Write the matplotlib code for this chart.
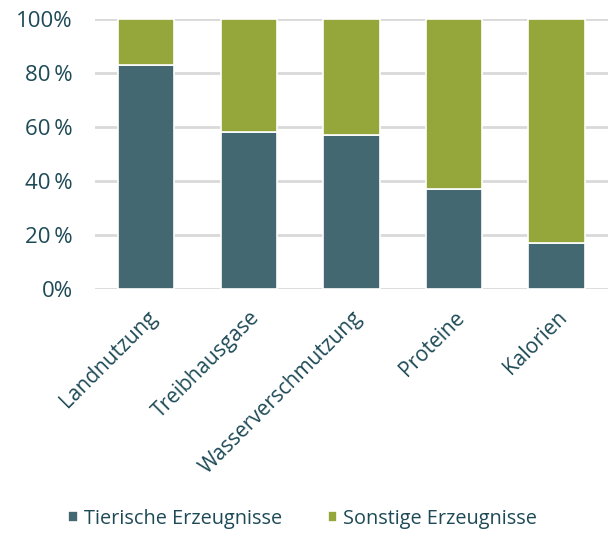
import numpy as np
import matplotlib
matplotlib.use("Agg")
import matplotlib.pyplot as plt

categories = ["Landnutzung", "Treibhausgase", "Wasserverschmutzung", "Proteine", "Kalorien"]
tierisch = [83, 58, 57, 37, 17]
sonstige = [100 - v for v in tierisch]

DARK = "#436872"
GREEN = "#95a73a"
TEXT = "#1d4a56"

plt.rcParams["font.family"] = ["Open Sans", "DejaVu Sans"]

fig = plt.figure(figsize=(6.09, 5.37), dpi=100)
ax = fig.add_axes([0.156, 0.462, 0.842, 0.503])

x = np.arange(len(categories))
ax.bar(x, tierisch, width=0.55, color=DARK, edgecolor="white", linewidth=1.2,
       label="Tierische Erzeugnisse", zorder=3)
ax.bar(x, sonstige, width=0.55, bottom=tierisch, color=GREEN, edgecolor="white",
       linewidth=1.2, label="Sonstige Erzeugnisse", zorder=3)

ax.set_xlim(-0.5, 4.5)
ax.set_ylim(0, 100)
ax.set_yticks(range(0, 101, 20))
ax.set_yticklabels([f"{v}\u2009%" if v not in (0, 100) else f"{v}%" for v in range(0, 101, 20)])
ax.yaxis.grid(True, color="#d9d9d9", linewidth=2, zorder=0)
ax.set_axisbelow(True)
for s in ax.spines.values():
    s.set_visible(False)
ax.tick_params(axis="both", length=0, labelsize=16, colors=TEXT)
ax.tick_params(axis="y", pad=16)

ax.set_xticks(x)
ax.set_xticklabels(categories, rotation=45, ha="right", rotation_mode="anchor", fontsize=15)
ax.tick_params(axis="x", pad=13)

leg = fig.legend(loc="lower center", bbox_to_anchor=(0.497, -0.018), ncol=2, frameon=False,
                 fontsize=14.3, handlelength=0.48, handleheight=0.48, handletextpad=0.3,
                 columnspacing=2.3)
for t in leg.get_texts():
    t.set_color(TEXT)

fig.savefig("out.png", dpi=100)
